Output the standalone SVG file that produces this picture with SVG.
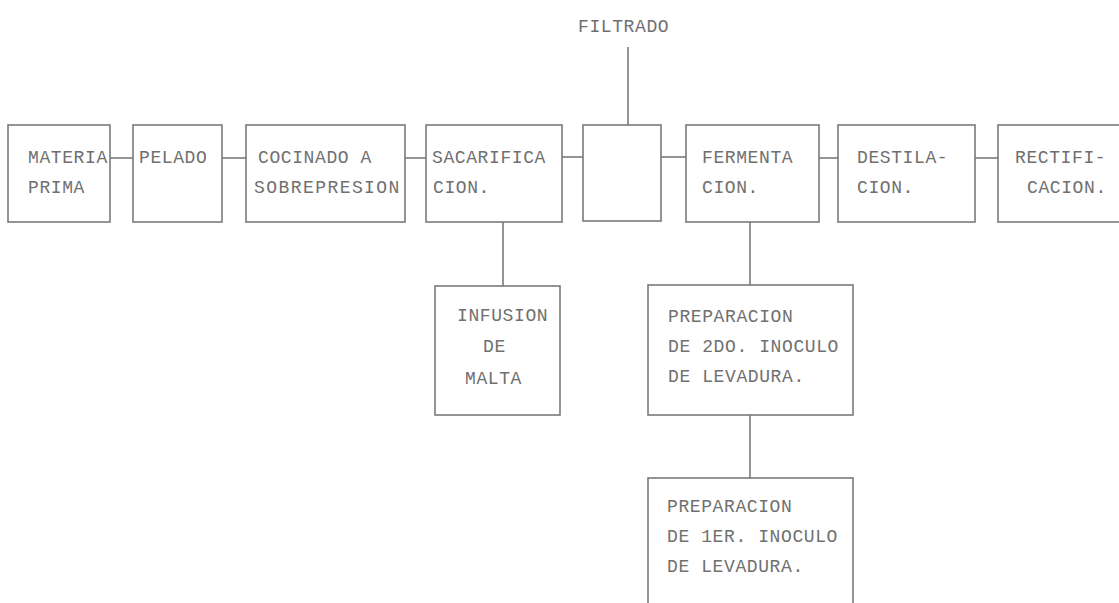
<svg xmlns="http://www.w3.org/2000/svg" width="1119" height="603" viewBox="0 0 1119 603">
<style>
.box{fill:none;stroke:#7a7a7a;stroke-width:1.6}
.ln{fill:none;stroke:#7a7a7a;stroke-width:1.6}
text{font-family:"Liberation Mono","DejaVu Sans Mono",monospace;font-size:18px;fill:#707070;letter-spacing:0.6px}
</style>
<rect width="1119" height="603" fill="#ffffff"/>
<g id="connectors">
<line class="ln" x1="110" y1="158" x2="133" y2="158"/>
<line class="ln" x1="222" y1="158" x2="246" y2="158"/>
<line class="ln" x1="405" y1="158" x2="426" y2="158"/>
<line class="ln" x1="562" y1="157" x2="583" y2="157"/>
<line class="ln" x1="661" y1="157" x2="686" y2="157"/>
<line class="ln" x1="819" y1="158" x2="838" y2="158"/>
<line class="ln" x1="975" y1="158" x2="998" y2="158"/>
<line class="ln" x1="628" y1="47" x2="628" y2="125"/>
<line class="ln" x1="503" y1="222" x2="503" y2="286"/>
<line class="ln" x1="750" y1="222" x2="750" y2="285"/>
<line class="ln" x1="750" y1="415" x2="750" y2="478"/>
</g>
<g id="filtrado"><text x="578" y="32">FILTRADO</text></g>
<g id="materia-prima"><rect class="box" x="8" y="125" width="102" height="97"/><text x="28" y="163">MATERIA</text><text x="28" y="193">PRIMA</text></g>
<g id="pelado"><rect class="box" x="133" y="125" width="89" height="97"/><text x="139" y="163">PELADO</text></g>
<g id="cocinado"><rect class="box" x="246" y="125" width="159" height="97"/><text x="258" y="163">COCINADO A</text><text x="254" y="193" textLength="146" lengthAdjust="spacing">SOBREPRESION</text></g>
<g id="sacarificacion"><rect class="box" x="426" y="125" width="136" height="97"/><text x="432" y="163">SACARIFICA</text><text x="433" y="193">CION.</text></g>
<g id="blank"><rect class="box" x="583" y="125" width="78" height="96"/></g>
<g id="fermentacion"><rect class="box" x="686" y="125" width="133" height="97"/><text x="702" y="163">FERMENTA</text><text x="702" y="193">CION.</text></g>
<g id="destilacion"><rect class="box" x="838" y="125" width="137" height="97"/><text x="857" y="163">DESTILA-</text><text x="857" y="193">CION.</text></g>
<g id="rectificacion"><rect class="box" x="998" y="125" width="130" height="97"/><text x="1015" y="163">RECTIFI-</text><text x="1027" y="193">CACION.</text></g>
<g id="infusion"><rect class="box" x="435" y="286" width="125" height="129"/><text x="457" y="321">INFUSION</text><text x="483" y="352">DE</text><text x="465" y="384">MALTA</text></g>
<g id="prep2"><rect class="box" x="648" y="285" width="205" height="130"/><text x="668" y="322">PREPARACION</text><text x="668" y="352">DE 2DO. INOCULO</text><text x="668" y="382">DE LEVADURA.</text></g>
<g id="prep1"><rect class="box" x="648" y="478" width="205" height="140"/><text x="667" y="512">PREPARACION</text><text x="667" y="542">DE 1ER. INOCULO</text><text x="667" y="572">DE LEVADURA.</text></g>
</svg>
